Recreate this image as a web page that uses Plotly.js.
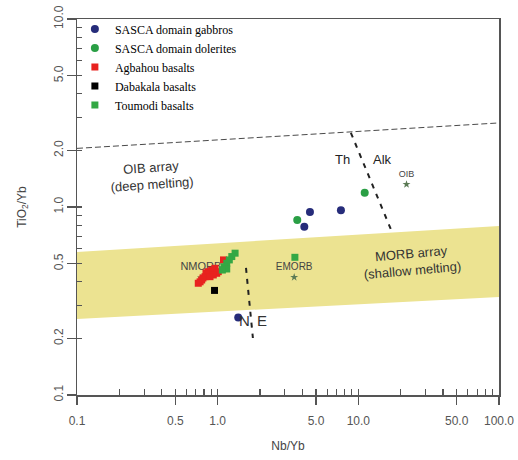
<!DOCTYPE html>
<html>
<head>
<meta charset="utf-8">
<script src="https://cdn.plot.ly/plotly-3.0.1.min.js"></script>
<style>
  html, body { margin: 0; padding: 0; background: #ffffff; }
  #chart { width: 518px; height: 460px; }
</style>
</head>
<body>
<div id="chart"></div>
<script>
// ---- Data ----
const gabbrosX = [1.40, 4.13, 4.53, 7.52];
const gabbrosY = [0.258, 0.786, 0.94, 0.96];

const doleritesX = [3.68, 11.1];
const doleritesY = [0.853, 1.19];

const agbahouX = [1.10, 1.01, 0.957, 0.906, 0.857, 0.984, 0.931, 0.826, 0.813, 0.882, 0.786, 0.77, 0.75, 0.728];
const agbahouY = [0.523, 0.453, 0.472, 0.462, 0.453, 0.444, 0.435, 0.446, 0.426, 0.426, 0.419, 0.409, 0.40, 0.393];

const dabakalaX = [0.95];
const dabakalaY = [0.36];

const toumodiX = [1.33, 1.26, 1.21, 1.16, 1.11, 1.16, 1.08, 3.54];
const toumodiY = [0.568, 0.545, 0.523, 0.502, 0.481, 0.468, 0.462, 0.54];

const refNames = ["NMORB", "EMORB", "OIB"];
const refX = [0.76, 3.5, 22];
const refY = [0.42, 0.423, 1.32];

// reference boundaries
const arrayEndsX = [0.1, 100];
const oibArrayY = [2.05, 2.80];
const morbTopY = [0.577, 0.792];
const morbBottomY = [0.254, 0.332];
const thAlkX = [8.85, 17.3];
const thAlkY = [2.48, 0.74];
const nEX = [1.59, 1.78];
const nEY = [0.474, 0.201];

// axis ticks
const xMajor = [0.1, 0.5, 1, 5, 10, 50, 100];
const xMajorLabels = ["0.1", "0.5", "1.0", "5.0", "10.0", "50.0", "100.0"];
const xMinor = [0.2, 0.3, 0.4, 0.6, 0.7, 0.8, 0.9, 2, 3, 4, 6, 7, 8, 9, 20, 30, 40, 60, 70, 80, 90];
const yMajor = [0.1, 0.2, 0.5, 1, 2, 5, 10];
const yMajorLabels = ["0.1", "0.2", "0.5", "1.0", "2.0", "5.0", "10.0"];
const yMinor = [0.3, 0.4, 0.6, 0.7, 0.8, 0.9, 3, 4, 6, 7, 8, 9];

// ---- Traces ----
const sans = "Liberation Sans, Arial, sans-serif";
const serif = "Liberation Serif, Times New Roman, serif";
const axisCol = "#555555";

const traces = [];

// MORB band
traces.push({
  x: arrayEndsX.concat(arrayEndsX.slice().reverse()),
  y: morbTopY.concat(morbBottomY.slice().reverse()),
  mode: "lines", fill: "toself", fillcolor: "#ECE391",
  line: { width: 0, color: "rgba(0,0,0,0)" },
  showlegend: false, hoverinfo: "skip"
});
// OIB array upper line
traces.push({
  x: arrayEndsX, y: oibArrayY, mode: "lines",
  line: { color: "#4a4a4a", width: 1, dash: "6px,3px" },
  showlegend: false, hoverinfo: "skip"
});
// Th/Alk and N/E dividers
traces.push({
  x: thAlkX, y: thAlkY, mode: "lines",
  line: { color: "#222222", width: 2, dash: "5px,6px" },
  showlegend: false, hoverinfo: "skip"
});
traces.push({
  x: nEX, y: nEY, mode: "lines",
  line: { color: "#222222", width: 2, dash: "5px,6px" },
  showlegend: false, hoverinfo: "skip"
});
// reference compositions (stars + labels)
traces.push({
  x: refX, y: refY, mode: "markers+text", text: refNames,
  textposition: "top center",
  textfont: { family: sans, size: [11, 10, 9], color: "#444444" },
  marker: { symbol: "star", size: 6, color: "#5b7a55" },
  showlegend: false, hoverinfo: "skip"
});

// samples
traces.push({
  name: "SASCA domain gabbros", x: gabbrosX, y: gabbrosY, mode: "markers",
  marker: { symbol: "circle", size: 8, color: "#262c7a" }
});
traces.push({
  name: "SASCA domain dolerites", x: doleritesX, y: doleritesY, mode: "markers",
  marker: { symbol: "circle", size: 8, color: "#2a9f45" }
});
traces.push({
  name: "Agbahou basalts", x: agbahouX, y: agbahouY, mode: "markers",
  marker: { symbol: "square", size: 7, color: "#e8221f" }
});
traces.push({
  name: "Dabakala basalts", x: dabakalaX, y: dabakalaY, mode: "markers",
  marker: { symbol: "square", size: 7, color: "#000000" }
});
traces.push({
  name: "Toumodi basalts", x: toumodiX, y: toumodiY, mode: "markers",
  marker: { symbol: "square", size: 7, color: "#33a844" }
});
// invisible carrier for the inside-tick overlay axes
traces.push({
  x: [1], y: [1], xaxis: "x2", yaxis: "y2", mode: "markers",
  marker: { opacity: 0 }, showlegend: false, hoverinfo: "skip"
});

const L = Math.log10;

const layout = {
  width: 518, height: 460,
  margin: { l: 77, r: 19, t: 19, b: 65 },
  paper_bgcolor: "#ffffff", plot_bgcolor: "#ffffff",
  showlegend: true,
  legend: {
    x: -0.005, xanchor: "left", y: 1.012, yanchor: "top",
    bgcolor: "rgba(0,0,0,0)", borderwidth: 0,
    font: { family: serif, size: 12, color: "#000000" },
    tracegroupgap: 0
  },
  xaxis: {
    type: "log", range: [-1, 2], autorange: false,
    tickmode: "array", tickvals: xMajor, ticktext: xMajorLabels,
    ticks: "outside", ticklen: 8, tickwidth: 1.3, tickcolor: axisCol,
    ticklabelstandoff: 6,
    minor: { tickmode: "array", tickvals: xMinor, ticks: "inside", ticklen: 6, tickwidth: 1.2, tickcolor: axisCol, showgrid: false },
    showline: true, linecolor: axisCol, linewidth: 1.5, mirror: true,
    showgrid: false, zeroline: false,
    tickfont: { family: sans, size: 12, color: "#555555" },
    title: { text: "Nb/Yb", font: { family: sans, size: 12, color: "#444444" }, standoff: 14 }
  },
  yaxis: {
    type: "log", range: [-1, 1], autorange: false,
    tickmode: "array", tickvals: yMajor,
    ticks: "outside", ticklen: 9, tickwidth: 1.3, tickcolor: axisCol,
    showticklabels: false,
    minor: { tickmode: "array", tickvals: yMinor, ticks: "inside", ticklen: 5, tickwidth: 1.2, tickcolor: axisCol, showgrid: false },
    showline: true, linecolor: axisCol, linewidth: 1.5, mirror: true,
    showgrid: false, zeroline: false
  },
  xaxis2: {
    type: "log", range: [-1, 2], autorange: false, overlaying: "x", anchor: "y", side: "bottom",
    tickmode: "array", tickvals: xMajor, ticks: "inside", ticklen: 6, tickwidth: 1.3, tickcolor: axisCol,
    showticklabels: false, showline: false, showgrid: false, zeroline: false
  },
  yaxis2: {
    type: "log", range: [-1, 1], autorange: false, overlaying: "y", anchor: "x", side: "left",
    tickmode: "array", tickvals: yMajor, ticktext: yMajorLabels, tickangle: -90,
    ticks: "inside", ticklen: 5, tickwidth: 1.3, tickcolor: axisCol,
    ticklabelstandoff: 11,
    showticklabels: true, showline: false, showgrid: false, zeroline: false,
    tickfont: { family: sans, size: 12, color: "#555555" },
    title: { text: "TiO<sub>2</sub>/Yb", font: { family: sans, size: 12, color: "#444444" }, standoff: 22 }
  },
  annotations: [
    { x: L(0.341), y: L(1.46), xref: "x", yref: "y", text: "OIB array<br>(deep melting)", showarrow: false,
      textangle: -4, font: { family: sans, size: 13, color: "#333333" } },
    { x: L(24.0), y: L(0.51), xref: "x", yref: "y", text: "MORB array<br>(shallow melting)", showarrow: false,
      textangle: -5, font: { family: sans, size: 13, color: "#333333" } },
    { x: L(7.77), y: L(1.80), xref: "x", yref: "y", text: "Th", showarrow: false,
      font: { family: sans, size: 13, color: "#222222" } },
    { x: L(14.96), y: L(1.80), xref: "x", yref: "y", text: "Alk", showarrow: false,
      font: { family: sans, size: 13, color: "#222222" } },
    { x: L(1.55), y: L(0.25), xref: "x", yref: "y", text: "N", showarrow: false,
      font: { family: sans, size: 15, color: "#333333" } },
    { x: L(2.07), y: L(0.25), xref: "x", yref: "y", text: "E", showarrow: false,
      font: { family: sans, size: 15, color: "#333333" } }
  ]
};

Plotly.newPlot("chart", traces, layout, { staticPlot: true, displayModeBar: false });
</script>
</body>
</html>
